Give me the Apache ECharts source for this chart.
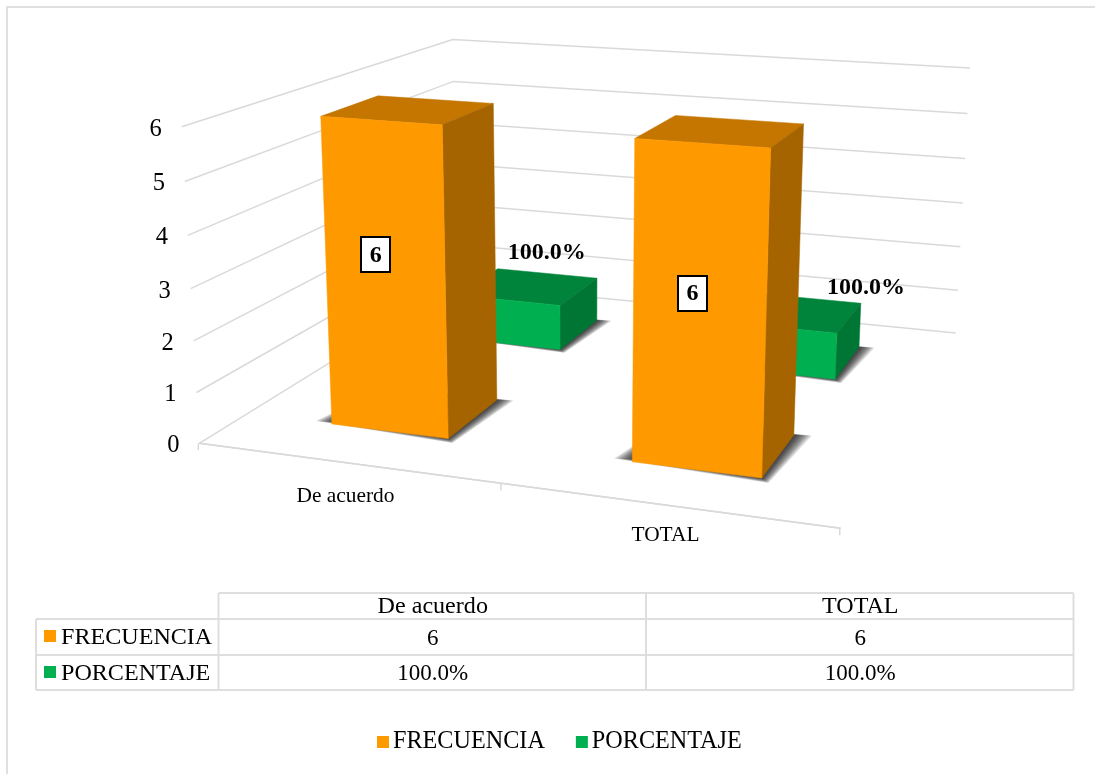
<!DOCTYPE html>
<html>
<head>
<meta charset="utf-8">
<style>html,body{margin:0;padding:0;background:#fff}#c{width:1095px;height:774px}</style>
<script src="https://cdn.jsdelivr.net/npm/echarts@6/dist/echarts.min.js"></script>
</head>
<body>
<div id="c"></div>
<script>
// ---- data ----
const categories = ['De acuerdo', 'TOTAL'];
const frecuencia = [6, 6];
const porcentaje = [1, 1];           // 1 = 100.0 %
const valueTicks = [0, 1, 2, 3, 4, 5, 6];
const seriesNames = ['FRECUENCIA', 'PORCENTAJE'];

// ---- label helpers ----
const pct = v => (v * 100).toFixed(1) + '%';
const fmtFrec = v => String(v);

// ---- style ----
const FONT = '"Liberation Serif","Times New Roman",serif';
const GRID = '#d9d9d9';
const FACES = {
  FRECUENCIA: { front: '#ff9900', top: '#c47600', side: '#a66400' },
  PORCENTAJE: { front: '#00b050', top: '#00843c', side: '#007634' }
};
const BAND_FILL = 0.4;               // bar width as share of a category band
const DEPTH_FILL = 0.4;              // bar depth as share of a series row
const SHADOW_STEPS = [1, 0.88, 0.76, 0.64, 0.52, 0.4, 0.28, 0.16];
// label offsets (px) from their anchors, per category
const frecLabelShift = [[-10, -25], [-7, -17]];
const pctLabelShift = [[19, -34], [73, -25]];
const catLabelShift = [34, 30];

// Projection of the 3D box (u along categories, v up, w into the page; all 0..1) to the page
const M = [
  [551.95, -25.6, 399.7, 199.3],
  [28.8, -322.2, -71.1, 443.3],
  [-0.1064, -0.04415, 0.3107, 1]
];
function project(u, v, w) {
  const h = M[2][0] * u + M[2][1] * v + M[2][2] * w + M[2][3];
  return [
    (M[0][0] * u + M[0][1] * v + M[0][2] * w + M[0][3]) / h,
    (M[1][0] * u + M[1][1] * v + M[1][2] * w + M[1][3]) / h
  ];
}
// Normalise a data point through the library's scales
function norm(api, params, cat, val) {
  const p = api.coord([cat, val]);
  const r = params.coordSys;
  return [(p[0] - r.x) / r.width, (r.y + r.height - p[1]) / r.height];
}
const lineStyle = { stroke: GRID, lineWidth: 1.5, fill: null };

function renderGridLine(params, api) {
  const tick = api.value(1);
  const v = norm(api, params, 0, tick)[1];
  const a = project(0, v, 0), b = project(0, v, 1), c = project(1, v, 1);
  const kids = [
    { type: 'polyline', shape: { points: [a, b, c] }, style: lineStyle },
    { type: 'text', style: { text: String(tick), x: a[0] - 26, y: a[1] + 2.5, align: 'center', verticalAlign: 'middle', font: '24.5px ' + FONT, fill: '#000' } }
  ];
  return { type: 'group', children: kids };
}

function renderFrontAxis(params, api) {
  const kids = [];
  const a = project(0, 0, 0), b = project(1, 0, 0);
  kids.push({ type: 'line', shape: { x1: a[0], y1: a[1], x2: b[0], y2: b[1] }, style: lineStyle });
  const idx = api.value(0);
  const n = categories.length;
  if (idx === 0) {
    for (let i = 0; i <= n; i++) {
      const t = project(i / n, 0, 0);
      kids.push({ type: 'line', shape: { x1: t[0] - 1, y1: t[1], x2: t[0] - 1, y2: t[1] + 7 }, style: lineStyle });
    }
  }
  const uc = norm(api, params, idx, 0)[0];
  const p = project(uc, 0, 0);
  kids.push({ type: 'text', style: { text: categories[idx], x: p[0] - 1, y: p[1] + catLabelShift[idx], align: 'center', verticalAlign: 'middle', font: '21.4px ' + FONT, fill: '#000' } });
  return { type: 'group', children: kids };
}

function makeBar(rowIndex, name) {
  const rows = seriesNames.length;
  return function (params, api) {
    const cat = api.value(0), val = api.value(1);
    const n0 = norm(api, params, cat, 0);
    const n1 = norm(api, params, cat, val);
    const halfU = api.size([1, 0])[0] * BAND_FILL / 2 / params.coordSys.width;
    const u0 = n0[0] - halfU, u1 = n0[0] + halfU;
    const wc = (rowIndex + 0.5) / rows, halfW = DEPTH_FILL / rows / 2;
    const w0 = wc - halfW, w1 = wc + halfW;
    const v0 = n0[1], v1 = n1[1];
    const f = FACES[name];
    const P = (u, v, w) => project(u, v, w);
    const poly = (pts, fill) => ({ type: 'polygon', shape: { points: pts }, style: { fill: fill, stroke: fill, lineWidth: 0.5 } });
    // soft contact shadow: stacked translucent footprints on the floor
    const kids = SHADOW_STEPS.map(t => ({
      type: 'polygon',
      shape: { points: [
        P(u0 - 0.03 * t, v0, w0 + 0.012 - 0.008 * t),
        P(u1 + 0.014 * t, v0, w0 - 0.016 * t),
        P(u1 + 0.027 * t, v0, w1 + 0.006 * t),
        P(u0, v0, w1)
      ] },
      style: { fill: 'rgba(0,0,0,0.14)' }
    }));
    kids.push(
      poly([P(u0, v1, w0), P(u1, v1, w0), P(u1, v1, w1), P(u0, v1, w1)], f.top),
      poly([P(u1, v0, w0), P(u1, v0, w1), P(u1, v1, w1), P(u1, v1, w0)], f.side),
      poly([P(u0, v0, w0), P(u1, v0, w0), P(u1, v1, w0), P(u0, v1, w0)], f.front)
    );
    return { type: 'group', children: kids };
  };
}

function renderFrecLabel(params, api) {
  const cat = api.value(0), val = api.value(1);
  const n0 = norm(api, params, cat, 0), n1 = norm(api, params, cat, val);
  const p = project(n0[0], (n0[1] + n1[1]) / 2, 0.15);
  const s = frecLabelShift[cat];
  const x = p[0] + s[0], y = p[1] + s[1];
  return { type: 'group', children: [
    { type: 'rect', shape: { x: Math.round(x - 14), y: Math.round(y - 17.5), width: 29, height: 35 }, style: { fill: '#fff', stroke: '#000', lineWidth: 2 } },
    { type: 'text', style: { text: fmtFrec(val), x: x + 0.5, y: y + 1, align: 'center', verticalAlign: 'middle', font: 'bold 24px ' + FONT, fill: '#000' } }
  ] };
}

function renderPctLabel(params, api) {
  const cat = api.value(0), val = api.value(1);
  const n0 = norm(api, params, cat, 0), n1 = norm(api, params, cat, val);
  const p = project(n0[0], n1[1], 0.75);
  const s = pctLabelShift[cat];
  return { type: 'text', style: { text: pct(val), x: p[0] + s[0], y: p[1] + s[1], align: 'center', verticalAlign: 'middle', font: 'bold 24px ' + FONT, fill: '#000' } };
}

// ---- data table under the chart (built from the arrays) ----
const colX = [36, 218.5, 646, 1073.5];
const rowY = [593, 619, 655, 690];
const tableLine = { stroke: '#dedede', lineWidth: 2 };
function hLine(x1, x2, y) { return { type: 'line', silent: true, shape: { x1, y1: y, x2, y2: y }, style: tableLine }; }
function vLine(x, y1, y2) { return { type: 'line', silent: true, shape: { x1: x, y1, x2: x, y2 }, style: tableLine }; }
function cellText(text, x, y, align, size) {
  return { type: 'text', silent: true, style: { text, x, y, align: align || 'center', verticalAlign: 'middle', font: (size || 24.1) + 'px ' + FONT, fill: '#000' } };
}
const tableEls = [
  hLine(colX[1], colX[3], rowY[0]),
  hLine(colX[0], colX[3], rowY[1]),
  hLine(colX[0], colX[3], rowY[2]),
  hLine(colX[0], colX[3], rowY[3]),
  vLine(colX[0], rowY[1], rowY[3]),
  vLine(colX[1], rowY[0], rowY[3]),
  vLine(colX[2], rowY[0], rowY[3]),
  vLine(colX[3], rowY[0], rowY[3])
];
categories.forEach((c, i) => {
  const x = (colX[i + 1] + colX[i + 2]) / 2 + 0.5;
  tableEls.push(cellText(c, x, 607));
  tableEls.push(cellText(fmtFrec(frecuencia[i]), x, 639, 'center', 23));
  tableEls.push(cellText(pct(porcentaje[i]), x, 674, 'center', 23));
});
seriesNames.forEach((name, r) => {
  const yc = r === 0 ? 636 : 672;
  tableEls.push({ type: 'rect', silent: true, shape: { x: 44, y: yc - 6, width: 12, height: 12 }, style: { fill: FACES[name].front } });
  tableEls.push(cellText(name, 61, yc + 2, 'left'));
});
const borderEls = [
  { type: 'line', silent: true, shape: { x1: 6, y1: 7, x2: 1095, y2: 7 }, style: { stroke: '#e0e0e0', lineWidth: 2 } },
  { type: 'line', silent: true, shape: { x1: 7, y1: 6, x2: 7, y2: 774 }, style: { stroke: '#e0e0e0', lineWidth: 2 } }
];

const chart = echarts.init(document.getElementById('c'), null, { renderer: 'canvas' });
chart.setOption({
  backgroundColor: '#fff',
  animation: false,
  grid: { left: 100, right: 100, top: 100, bottom: 300 },
  xAxis: { type: 'category', data: categories, show: false },
  yAxis: { type: 'value', min: 0, max: 6, interval: 1, show: false },
  legend: {
    data: seriesNames, left: 377, top: 730, padding: 0, itemWidth: 12, itemHeight: 12, itemGap: 31,
    icon: 'rect', selectedMode: false,
    textStyle: { fontFamily: FONT, fontSize: 24.2, color: '#000', padding: [2, 0, 0, -1] }
  },
  graphic: { elements: borderEls.concat(tableEls) },
  series: [
    { type: 'custom', name: 'frame', z: 1, silent: true, clip: false, renderItem: renderGridLine, data: valueTicks.map(t => [0, t]) },
    { type: 'custom', name: 'axis', z: 1, silent: true, clip: false, renderItem: renderFrontAxis, data: categories.map((c, i) => [i, 0]) },
    { type: 'custom', name: seriesNames[1], z: 2, clip: false, itemStyle: { color: FACES.PORCENTAJE.front }, renderItem: makeBar(1, seriesNames[1]), data: porcentaje.map((v, i) => [i, v]) },
    { type: 'custom', name: seriesNames[0], z: 3, clip: false, itemStyle: { color: FACES.FRECUENCIA.front }, renderItem: makeBar(0, seriesNames[0]), data: frecuencia.map((v, i) => [i, v]) },
    { type: 'custom', name: 'frecLabels', z: 4, silent: true, clip: false, renderItem: renderFrecLabel, data: frecuencia.map((v, i) => [i, v]) },
    { type: 'custom', name: 'pctLabels', z: 4, silent: true, clip: false, renderItem: renderPctLabel, data: porcentaje.map((v, i) => [i, v]) }
  ]
});
</script>
</body>
</html>
